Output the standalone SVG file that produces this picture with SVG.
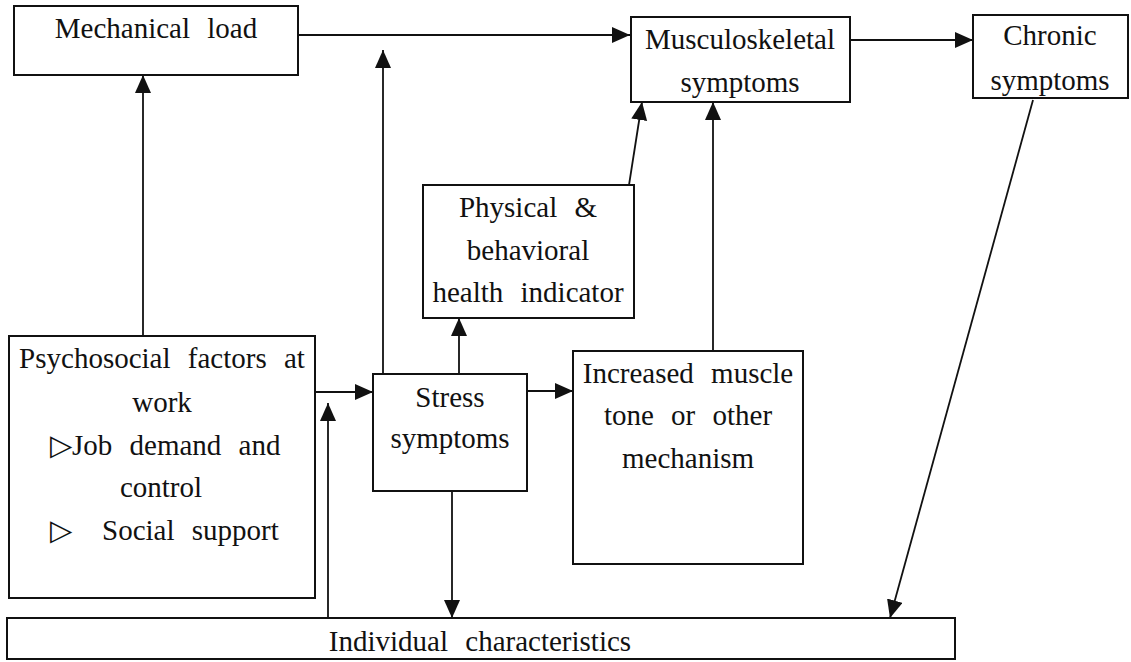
<svg xmlns="http://www.w3.org/2000/svg" width="1131" height="662" viewBox="0 0 1131 662">
<style>
.box{fill:#fff;stroke:#111;stroke-width:2}
.t{font-family:"Liberation Serif","Times New Roman",serif;font-size:29px;fill:#111;word-spacing:10px;text-anchor:middle}
.tl{text-anchor:start}
.c{fill:none;stroke:#111;stroke-width:1.8}
</style>
<defs>
<marker id="ah" markerUnits="userSpaceOnUse" markerWidth="20" markerHeight="18" refX="18" refY="8" orient="auto">
<path d="M0,0 L18,8 L0,16 z" fill="#111"/>
</marker>
</defs>
<rect width="1131" height="662" fill="#fff"/>
<g id="connectors">
<line class="c" x1="298" y1="35" x2="630" y2="35" marker-end="url(#ah)"/>
<line class="c" x1="850" y1="40" x2="973" y2="40" marker-end="url(#ah)"/>
<line class="c" x1="143" y1="336" x2="143" y2="75" marker-end="url(#ah)"/>
<line class="c" x1="383" y1="374" x2="383" y2="50" marker-end="url(#ah)"/>
<line class="c" x1="459" y1="374" x2="459" y2="318" marker-end="url(#ah)"/>
<line class="c" x1="629" y1="185" x2="642" y2="102" marker-end="url(#ah)"/>
<line class="c" x1="713" y1="351" x2="713" y2="102" marker-end="url(#ah)"/>
<line class="c" x1="315" y1="392" x2="373" y2="392" marker-end="url(#ah)"/>
<line class="c" x1="328" y1="618" x2="328" y2="403" marker-end="url(#ah)"/>
<line class="c" x1="527" y1="391" x2="573" y2="391" marker-end="url(#ah)"/>
<line class="c" x1="452" y1="491" x2="452" y2="618" marker-end="url(#ah)"/>
<line class="c" x1="1033" y1="100" x2="890" y2="618" marker-end="url(#ah)"/>
</g>
<g id="mechanical-load">
<rect class="box" x="14" y="6" width="284" height="69"/>
<text class="t" x="156" y="38">Mechanical load</text>
</g>
<g id="musculoskeletal-symptoms">
<rect class="box" x="631" y="17" width="219" height="85"/>
<text class="t" x="740" y="49">Musculoskeletal</text>
<text class="t" x="740" y="92">symptoms</text>
</g>
<g id="chronic-symptoms">
<rect class="box" x="973" y="15" width="155" height="83"/>
<text class="t" x="1050" y="45">Chronic</text>
<text class="t" x="1050" y="90">symptoms</text>
</g>
<g id="physical-behavioral">
<rect class="box" x="423" y="185" width="211" height="133"/>
<text class="t" x="528" y="217">Physical &amp;</text>
<text class="t" x="528" y="260">behavioral</text>
<text class="t" x="528" y="302">health indicator</text>
</g>
<g id="psychosocial-factors">
<rect class="box" x="9" y="336" width="306" height="262"/>
<text class="t" x="162" y="368">Psychosocial factors at</text>
<text class="t" x="162" y="412">work</text>
<text class="t tl" x="50" y="455">▷Job demand and</text>
<text class="t" x="161" y="497">control</text>
<text class="t tl" y="540"><tspan x="50">▷</tspan><tspan x="102">Social support</tspan></text>
</g>
<g id="stress-symptoms">
<rect class="box" x="373" y="374" width="154" height="117"/>
<text class="t" x="450" y="407">Stress</text>
<text class="t" x="450" y="448">symptoms</text>
</g>
<g id="increased-muscle-tone">
<rect class="box" x="573" y="351" width="230" height="213"/>
<text class="t" x="688" y="383">Increased muscle</text>
<text class="t" x="688" y="425">tone or other</text>
<text class="t" x="688" y="468">mechanism</text>
</g>
<g id="individual-characteristics">
<rect class="box" x="7" y="618" width="948" height="41"/>
<text class="t" x="480" y="651">Individual characteristics</text>
</g>
</svg>
